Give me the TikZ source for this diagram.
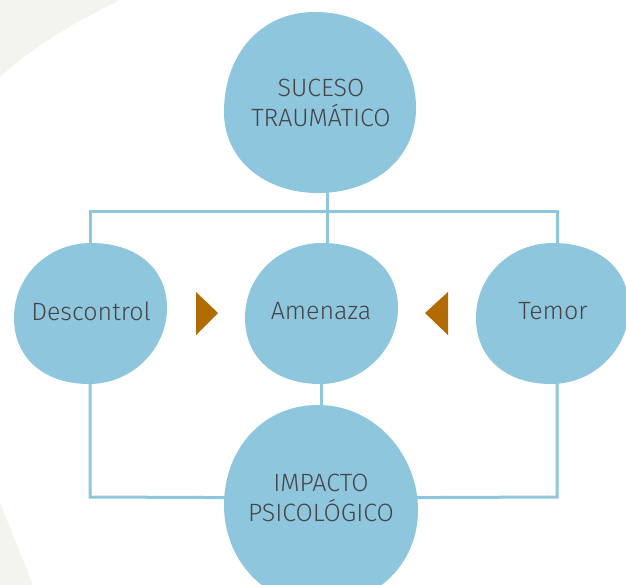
\documentclass[tikz,border=0pt]{standalone}
\usepackage{fontspec}
\setmainfont{Fira Sans}[UprightFont={* Light}]
\definecolor{blobc}{HTML}{8EC6DD}
\definecolor{linec}{HTML}{8EC6DD}
\definecolor{txtc}{HTML}{454545}
\definecolor{tric}{HTML}{B26B00}
\definecolor{bgc}{HTML}{F4F4EF}
\tikzset{
  conn/.style={draw=linec, line width=3pt},
  lbl/.style={text=txtc, font=\fontsize{25}{30}\selectfont, align=center, inner sep=0pt},
  blob/.style={fill=blobc, draw=none},
  tri/.style={fill=tric, draw=none}
}
\begin{document}
\begin{tikzpicture}[x=1pt,y=-1pt]
\useasboundingbox (0,0) rectangle (626,585);
\clip (0,0) rectangle (626,585);
\fill[white] (0,0) rectangle (626,585);
% background shapes
\fill[bgc] (0,0) -- (120,0) .. controls (75,22) and (35,45) .. (0,77) -- cycle;
\fill[bgc] (0,503) -- (33,585) -- (0,585) -- cycle;
% anchor coordinates
\coordinate (jL) at (90,212);
\coordinate (jM) at (327,212);
\coordinate (jR) at (557,212);
\coordinate (bL) at (90,497);
\coordinate (bR) at (557,497);
% label positions
\path (321,103) coordinate (supc);
\path (91,311) coordinate (descc);
\path (321,311) coordinate (amenc);
\path (553,311) coordinate (temorc);
\path (321,498) coordinate (impc);
% connectors
\draw[conn] (supc -| jM) -- (jM) -- (amenc -| jM);
\draw[conn] (descc -| jL) -- (jL) -- (jR) -- (temorc -| jR);
\draw[conn] (descc -| jL) -- (bL) -- (impc);
\draw[conn] (temorc -| jR) -- (bR) -- (impc);
\draw[conn] (amenc) -- (impc);
% blobs
\fill[blob] (315,12) .. controls (372,12) and (416,52) .. (416,108)
  .. controls (416,160) and (372,193) .. (318,193)
  .. controls (265,193) and (224,160) .. (224,112)
  .. controls (224,55) and (260,12) .. (315,12) -- cycle;
\foreach \cx in {91,322,553}{
  \fill[blob, shift={(\cx,313)}] (0,-70) .. controls (45,-70) and (76,-45) .. (76,-5)
    .. controls (76,35) and (42,71) .. (-2,71)
    .. controls (-47,71) and (-77,45) .. (-77,5)
    .. controls (-77,-38) and (-42,-70) .. (0,-70) -- cycle;
}
\fill[blob] (318,405) .. controls (375,405) and (418,455) .. (418,510)
  .. controls (418,565) and (375,605) .. (320,605)
  .. controls (265,605) and (224,560) .. (224,505)
  .. controls (224,450) and (262,405) .. (318,405) -- cycle;
% triangles
\fill[tri] (196,292) -- (218,313) -- (196,335) -- cycle;
\fill[tri] (448,292) -- (425,313) -- (448,335) -- cycle;
% labels
\node[lbl] (sup) at (supc) {SUCESO\\TRAUMÁTICO};
\node[lbl] (desc) at (descc) {Descontrol};
\node[lbl] (amen) at (amenc) {Amenaza};
\node[lbl] (temor) at (temorc) {Temor};
\node[lbl] (imp) at (impc) {IMPACTO\\PSICOLÓGICO};
\end{tikzpicture}
\end{document}
